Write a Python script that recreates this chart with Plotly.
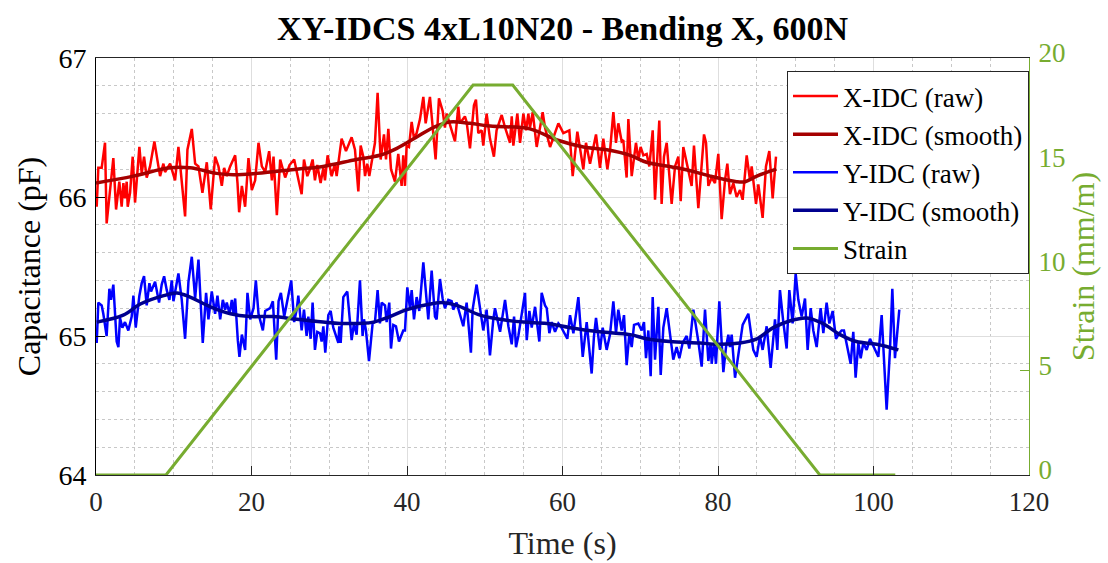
import plotly.graph_objects as go

# ---- X-IDC raw capacitance (time s, value pF) ----
x_raw_t = [0.09, 0.3, 0.73, 1.16, 1.37, 2.23, 2.58, 3.0, 3.3, 3.52, 3.73, 3.95, 4.08, 4.38, 4.72, 5.02,
           5.58, 5.88, 6.18, 6.52, 6.95, 7.51, 8.03, 8.24, 8.67, 8.88, 9.53, 10.17, 10.6, 11.46, 11.76,
           12.32, 12.75, 13.18, 13.69, 14.25, 14.76, 15.32, 15.75, 16.18, 16.48, 16.82, 17.25, 17.9,
           18.2, 18.41, 18.76, 19.18, 19.61, 20.04, 20.47, 20.9, 21.33, 21.76, 22.27, 22.62, 22.83,
           23.26, 23.69, 24.33, 24.89, 25.49, 26.05, 26.45, 26.75, 27.18, 27.52, 27.86, 28.16, 28.46,
           28.89, 29.24, 29.45, 29.79, 30.31, 30.74, 30.95, 31.59, 32.15, 32.88, 33.31, 33.74, 34.04,
           34.38, 34.6, 34.89, 35.15, 35.58, 35.88, 36.22, 36.61, 37.04, 37.3, 37.6, 37.94, 38.45,
           38.88, 39.31, 39.52, 39.74, 39.95, 40.25, 40.6, 40.9, 41.24, 41.67, 42.1, 42.4, 42.95,
           43.68, 44.11, 44.58, 44.88, 45.1, 45.44, 46.17, 46.6, 46.81, 47.45, 47.67, 48.1, 48.61,
           48.87, 49.17, 49.6, 49.81, 50.24, 50.67, 51.18, 51.52, 52.18, 52.61, 53.25, 53.47, 53.68,
           54.19, 54.54, 54.97, 55.31, 55.61, 55.82, 56.17, 56.68, 57.02, 57.45, 57.75, 58.4, 59.47,
           60.11, 60.88, 61.31, 61.91, 62.25, 62.68, 63.02, 63.54, 64.31, 64.82, 65.25, 65.77, 66.11,
           66.54, 66.88, 67.18, 67.61, 67.82, 68.25, 68.47, 68.9, 69.45, 69.75, 70.05, 70.4, 70.83,
           71.17, 71.6, 71.9, 72.45, 72.75, 73.05, 73.4, 74.04, 74.47, 74.9, 75.2, 75.54, 76.61,
           76.91, 77.47, 78.2, 78.46, 78.76, 79.19, 79.61, 80.04, 80.47, 80.9, 81.2, 81.54, 81.97,
           82.4, 82.83, 83.17, 83.69, 84.12, 84.33, 84.89, 85.19, 85.74, 86.17, 86.6, 87.03, 87.46]
x_raw_v = [65.93, 66.21, 66.21, 66.39, 65.81, 66.28, 65.91, 66.11, 65.93, 66.10, 65.99, 66.11, 65.93,
           66.03, 66.29, 65.96, 66.36, 66.17, 66.29, 66.14, 66.22, 66.40, 66.22, 66.15, 66.24, 66.18,
           66.24, 66.12, 66.36, 65.86, 66.34, 66.49, 66.24, 66.22, 66.03, 66.25, 65.91, 66.29, 66.22,
           66.08, 66.21, 66.15, 66.22, 66.30, 66.10, 65.89, 66.08, 65.93, 66.28, 66.05, 66.12, 66.39,
           66.22, 66.18, 66.33, 66.12, 66.29, 65.87, 66.27, 66.14, 66.23, 66.27, 66.12, 66.02, 66.27,
           66.15, 66.20, 66.27, 66.12, 66.23, 66.10, 66.21, 66.12, 66.30, 66.15, 66.24, 66.15, 66.42,
           66.33, 66.43, 66.34, 66.04, 66.37, 66.29, 66.15, 66.24, 66.15, 66.29, 66.39, 66.75, 66.27,
           66.45, 66.27, 66.49, 66.20, 66.11, 66.31, 66.08, 66.30, 66.08, 66.37, 66.36, 66.54, 66.42,
           66.46, 66.56, 66.72, 66.53, 66.72, 66.27, 66.71, 66.62, 66.50, 66.60, 66.53, 66.40, 66.65,
           66.53, 66.58, 66.54, 66.35, 66.66, 66.70, 66.46, 66.48, 66.37, 66.60, 66.42, 66.29, 66.48,
           66.59, 66.50, 66.39, 66.58, 66.37, 66.60, 66.39, 66.60, 66.48, 66.60, 66.50, 66.61, 66.36,
           66.48, 66.61, 66.50, 66.36, 66.53, 66.46, 66.48, 66.15, 66.47, 66.36, 66.20, 66.39, 66.24,
           66.45, 66.21, 66.42, 66.20, 66.33, 66.61, 66.39, 66.53, 66.40, 66.41, 66.14, 66.56, 66.15,
           66.39, 66.27, 66.36, 66.30, 66.31, 66.22, 66.48, 65.98, 66.55, 65.95, 66.29, 66.39, 65.95,
           66.22, 66.29, 65.97, 66.36, 66.08, 66.37, 65.92, 66.45, 66.39, 66.08, 66.14, 66.10, 66.31,
           65.84, 66.12, 66.24, 66.02, 66.10, 66.00, 66.05, 65.98, 66.30, 66.12, 66.22, 65.95, 66.09,
           65.85, 66.22, 66.33, 65.99, 66.29]

# ---- X-IDC smoothed ----
x_smooth_t = [0, 4.8, 9.5, 12.1, 15.5, 17.7, 20.7, 25.8, 29.2, 33.5, 36.5, 38.7, 41.2, 43.4, 45.5,
              48.1, 50.7, 55.8, 59.3, 62.7, 65.7, 68.7, 70.8, 74.7, 77.7, 79.0, 82.4, 83.5, 85.0, 87.5]
x_smooth_v = [66.10, 66.15, 66.21, 66.21, 66.17, 66.16, 66.17, 66.20, 66.22, 66.27, 66.30, 66.35,
              66.43, 66.50, 66.54, 66.53, 66.51, 66.49, 66.41, 66.36, 66.34, 66.30, 66.25, 66.21,
              66.17, 66.15, 66.11, 66.11, 66.15, 66.20]

# ---- Y-IDC raw capacitance ----
y_raw_t = [0.09, 0.3, 0.73, 0.94, 1.37, 1.72, 1.93, 2.23, 2.66, 2.88, 3.09, 3.39, 3.73, 4.16, 4.59,
           4.81, 5.11, 5.58, 5.88, 6.18, 6.52, 6.87, 7.08, 7.6, 8.11, 8.45, 8.76, 9.1, 9.44, 9.74,
           9.96, 10.6, 11.03, 11.46, 11.89, 12.32, 12.75, 13.18, 13.73, 14.16, 14.46, 14.89, 15.32,
           15.62, 15.97, 16.31, 16.61, 16.82, 17.17, 17.47, 17.68, 17.9, 18.24, 18.45, 18.76, 19.18,
           19.48, 19.83, 20.26, 20.56, 20.9, 21.46, 21.76, 22.4, 22.75, 23.18, 23.48, 23.78, 24.21,
           25.11, 25.49, 25.84, 26.02, 26.45, 26.75, 27.09, 27.31, 27.61, 27.86, 28.16, 28.46, 28.81,
           29.02, 29.24, 29.49, 29.88, 30.18, 30.52, 31.17, 31.29, 31.47, 31.81, 32.32, 32.88, 33.18,
           33.52, 33.95, 34.29, 34.47, 34.72, 35.11, 35.58, 35.88, 36.22, 36.52, 36.74, 37.17, 37.38,
           37.72, 37.94, 38.24, 38.58, 38.97, 39.52, 39.74, 40.04, 40.38, 40.6, 40.9, 41.24, 41.58,
           42.1, 42.52, 42.74, 43.17, 43.6, 43.81, 44.24, 44.58, 44.88, 45.31, 45.74, 45.95, 46.38,
           47.24, 47.67, 48.22, 48.44, 48.95, 49.81, 50.24, 50.67, 51.1, 51.32, 51.97, 52.61, 53.04,
           53.47, 53.77, 54.02, 54.32, 55.18, 55.4, 55.74, 56.04, 56.47, 57.02, 57.32, 57.75, 57.97,
           58.31, 58.61, 59.04, 59.47, 59.77, 60.62, 60.97, 61.4, 62.04, 62.6, 63.11, 63.75, 64.05,
           64.31, 64.82, 65.17, 65.68, 66.11, 66.54, 66.88, 67.18, 67.61, 67.91, 68.25, 68.6, 68.9,
           69.2, 69.75, 70.18, 70.48, 70.74, 71.04, 71.34, 71.6, 71.9, 72.33, 72.63, 72.97, 73.4,
           74.25, 74.68, 75.03, 75.45, 75.97, 76.31, 76.83, 77.47, 77.9, 78.33, 78.76, 79.06, 79.19,
           79.49, 79.74, 80.17, 80.69, 81.03, 81.33, 81.54, 81.76, 82.19, 82.74, 83.17, 83.9, 84.54,
           84.97, 85.4, 85.74, 86.26, 86.77, 87.33, 87.63, 87.97, 88.4, 88.83, 89.17, 89.6, 89.99,
           90.33, 90.76, 91.19, 91.53, 91.92, 92.26, 92.69, 93.2, 93.55, 93.97, 94.32, 94.75, 95.17,
           95.6, 95.9, 96.2, 97.06, 97.4, 97.7, 98.05, 98.35, 98.69, 99.12, 99.55, 100.62, 101.05,
           101.69, 102.12, 102.42, 102.76, 103.32]
y_raw_v = [64.95, 65.24, 65.22, 65.16, 65.00, 65.34, 65.26, 65.37, 64.96, 64.92, 65.13, 65.06, 65.10,
           65.04, 65.14, 65.29, 65.06, 65.29, 65.38, 65.43, 65.22, 65.38, 65.32, 65.39, 65.24, 65.37,
           65.43, 65.33, 65.26, 65.40, 65.25, 65.45, 65.26, 64.98, 65.39, 65.57, 65.27, 65.55, 64.95,
           65.31, 65.12, 65.32, 65.16, 65.29, 65.12, 65.26, 65.19, 65.24, 65.16, 65.26, 65.16, 65.27,
           64.97, 64.85, 65.01, 64.90, 65.31, 65.12, 65.20, 65.40, 65.16, 65.04, 65.18, 65.20, 65.25,
           64.83, 65.25, 65.31, 65.14, 65.40, 65.10, 65.20, 65.29, 65.04, 65.19, 65.00, 65.14, 64.98,
           65.24, 64.90, 65.03, 65.02, 64.96, 65.07, 64.88, 65.15, 65.18, 65.06, 64.95, 65.07, 64.95,
           65.28, 65.32, 64.97, 65.09, 65.01, 65.40, 65.00, 65.12, 65.04, 64.82, 65.09, 65.10, 65.33,
           65.09, 65.24, 65.22, 65.10, 65.24, 64.91, 65.08, 65.07, 64.96, 65.04, 65.04, 65.35, 65.20,
           65.33, 65.12, 65.28, 65.18, 65.53, 65.26, 65.12, 65.47, 65.14, 65.12, 65.41, 65.27, 65.20,
           65.26, 65.25, 65.19, 65.24, 65.07, 65.24, 64.88, 65.19, 65.37, 65.04, 65.19, 64.86, 65.12,
           65.20, 65.03, 65.26, 65.07, 64.94, 65.14, 64.92, 65.00, 65.31, 64.97, 65.18, 65.06, 65.21,
           64.96, 65.31, 65.22, 65.20, 65.02, 65.10, 65.03, 65.09, 65.07, 64.98, 65.15, 65.02, 65.28,
           64.85, 65.10, 64.73, 65.00, 65.13, 64.90, 65.06, 64.90, 65.01, 65.25, 65.02, 65.19, 65.04,
           65.15, 64.79, 65.02, 64.92, 65.08, 65.09, 65.04, 65.10, 64.84, 65.04, 64.71, 65.28, 64.83,
           65.21, 64.72, 65.06, 65.20, 64.83, 64.92, 64.84, 64.95, 65.00, 64.91, 65.19, 64.96, 64.78,
           65.19, 64.82, 64.95, 64.80, 64.95, 64.80, 65.25, 64.74, 64.92, 65.01, 64.92, 65.01, 64.70,
           64.90, 65.08, 65.16, 64.90, 64.85, 65.00, 64.90, 65.07, 64.77, 65.12, 64.90, 65.33, 65.10,
           64.91, 65.33, 65.09, 65.45, 65.26, 65.14, 65.27, 64.90, 65.20, 65.04, 64.92, 65.20, 65.02,
           65.24, 65.09, 65.18, 64.98, 65.02, 65.04, 65.04, 64.80, 65.03, 64.70, 64.95, 64.84, 64.95,
           64.90, 64.98, 64.85, 65.15, 64.47, 64.90, 65.34, 64.84, 65.19]

# ---- Y-IDC smoothed ----
y_smooth_t = [0.1, 3.5, 5.7, 8.7, 10.4, 12.1, 14.7, 17.3, 19.8, 22.8, 25.8, 29.2, 31.4, 35.7, 37.8,
              40.0, 43.0, 44.7, 46.4, 49.4, 52.0, 55.0, 58.0, 61.0, 64.8, 68.7, 70.8, 73.8, 77.7,
              79.8, 82.8, 85.0, 87.1, 89.3, 91.4, 93.5, 95.7, 97.8, 100.4, 103.2]
y_smooth_v = [65.10, 65.15, 65.23, 65.29, 65.31, 65.28, 65.21, 65.16, 65.14, 65.14, 65.12, 65.10,
              65.09, 65.10, 65.14, 65.19, 65.23, 65.24, 65.22, 65.15, 65.12, 65.10, 65.09, 65.06,
              65.03, 65.01, 64.98, 64.96, 64.95, 64.94, 64.95, 64.98, 65.06, 65.11, 65.13, 65.09,
              65.01, 64.96, 64.94, 64.90]

# ---- Applied strain (mm/m) ----
strain_t = [0, 9.0, 48.5, 53.6, 93.1, 102.8]
strain_v = [0, 0, 18.7, 18.7, 0, 0]

FONT = "Liberation Serif"
GREEN = "#77AC30"
AXIS = "#262626"

fig = go.Figure()
fig.add_trace(go.Scatter(x=x_raw_t, y=x_raw_v, mode="lines", name="X-IDC (raw)",
                         line=dict(color="#FF0000", width=2.5), legendgroup="a"))
fig.add_trace(go.Scatter(x=x_smooth_t, y=x_smooth_v, mode="lines", name="X-IDC (smooth)",
                         line=dict(color="#A50000", width=3.5, shape="spline"), legendgroup="b"))
fig.add_trace(go.Scatter(x=y_raw_t, y=y_raw_v, mode="lines", name="Y-IDC (raw)",
                         line=dict(color="#0000FF", width=2.5), legendgroup="c"))
fig.add_trace(go.Scatter(x=y_smooth_t, y=y_smooth_v, mode="lines", name="Y-IDC (smooth)",
                         line=dict(color="#00008F", width=3.5, shape="spline"), legendgroup="d"))
fig.add_trace(go.Scatter(x=strain_t, y=strain_v, mode="lines", name="Strain", yaxis="y2",
                         line=dict(color=GREEN, width=3), legendgroup="e"))

fig.update_layout(
    width=1108, height=563,
    margin=dict(l=96, r=79, t=58, b=88, autoexpand=False),
    paper_bgcolor="white", plot_bgcolor="white",
    font=dict(family=FONT, color="#000000", size=28),
    title=dict(text="<b>XY-IDCS 4xL10N20 - Bending X, 600N</b>", x=0.5, xref="paper",
               xanchor="center", y=1 - 28 / 563, yanchor="middle", yref="container",
               font=dict(family=FONT, size=34, color="#000000")),
    xaxis=dict(range=[0, 120], dtick=20, tick0=0, showgrid=True, gridcolor="#DEDEDE", gridwidth=1,
               zeroline=False, showline=True, linecolor=AXIS, linewidth=1, mirror=True,
               ticks="inside", ticklen=9, tickcolor=AXIS, ticklabelstandoff=3, automargin=False,
               tickfont=dict(family=FONT, size=27, color="#262626"),
               minor=dict(dtick=5, showgrid=True, gridcolor="#C8C8C8", griddash="dot", gridwidth=1),
               title=dict(text="Time (s)", font=dict(family=FONT, size=32, color="#262626"), standoff=15)),
    yaxis=dict(range=[64, 67], dtick=1, tick0=64, showgrid=True, gridcolor="#DEDEDE", gridwidth=1,
               zeroline=False, showline=True, linecolor="#000000", linewidth=1, automargin=False,
               ticks="inside", ticklen=9, tickcolor="#000000", ticklabelstandoff=3,
               tickfont=dict(family=FONT, size=28, color="#000000"),
               minor=dict(dtick=0.2, showgrid=True, gridcolor="#C8C8C8", griddash="dot", gridwidth=1),
               title=dict(text="Capacitance (pF)", font=dict(family=FONT, size=32, color="#000000"),
                          standoff=8)),
    yaxis2=dict(range=[0, 20], dtick=5, tick0=0, overlaying="y", side="right", showgrid=False,
                zeroline=False, showline=True, linecolor=GREEN, linewidth=1, automargin=False,
                ticks="inside", ticklen=9, tickcolor=GREEN, ticklabelstandoff=3, ticklabelshift=-5,
                tickfont=dict(family=FONT, size=27, color=GREEN),
                title=dict(text="Strain (mm/m)", font=dict(family=FONT, size=32, color=GREEN),
                           standoff=4)),
    legend=dict(x=1, xanchor="right", y=(475 - 71) / 417, yanchor="top",
                bgcolor="white", bordercolor=AXIS, borderwidth=1,
                font=dict(family=FONT, size=27, color="#000000"),
                tracegroupgap=5, traceorder="normal", itemwidth=45),
    showlegend=True,
)

fig.write_html("out.html")
